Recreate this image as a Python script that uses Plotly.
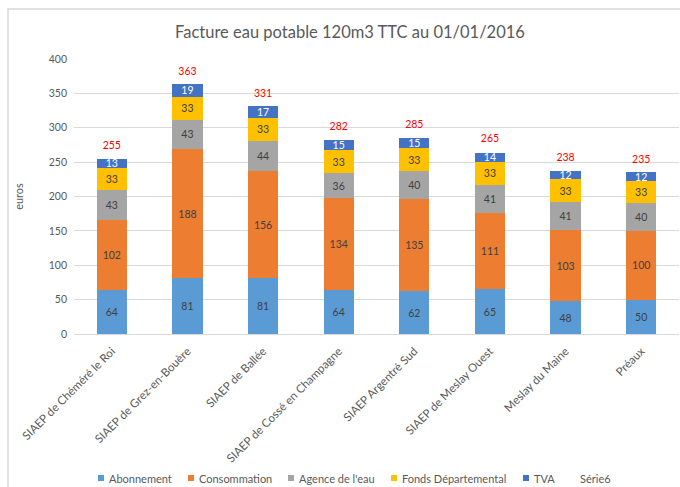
import plotly.graph_objects as go

categories = ["SIAEP de Chéméré le Roi", "SIAEP de Grez-en-Bouère", "SIAEP de Ballée",
              "SIAEP de Cossé en Champagne", "SIAEP Argentré Sud", "SIAEP de Meslay Ouest",
              "Meslay du Maine", "Préaux"]
abonnement = [64, 81, 81, 64, 62, 65, 48, 50]
consommation = [102, 188, 156, 134, 135, 111, 103, 100]
agence = [43, 43, 44, 36, 40, 41, 41, 40]
fonds = [33, 33, 33, 33, 33, 33, 33, 33]
tva = [13, 19, 17, 15, 15, 14, 12, 12]
totals = [255, 363, 331, 282, 285, 265, 238, 235]
yticks = [0, 50, 100, 150, 200, 250, 300, 350, 400]

FONT = "Lato"
GRAY = "#595959"

series = [
    ("Abonnement", abonnement, "#5B9BD5", "#404040"),
    ("Consommation", consommation, "#ED7D31", "#404040"),
    ("Agence de l'eau", agence, "#A5A5A5", "#404040"),
    ("Fonds Départemental", fonds, "#FFC000", "#404040"),
    ("TVA", tva, "#4472C4", "#FFFFFF"),
]

# pixel geometry of the plot area
L, R, T, B = 74, 1, 59, 153
PW = 680 - L - R
PH = 487 - T - B


def px_x(p):
    return (p - L) / PW


def px_y(p):
    return (487 - B - p) / PH


fig = go.Figure()
for name, vals, color, tcol in series:
    fig.add_trace(go.Bar(
        x=categories, y=vals, name=name,
        marker=dict(color=color, line=dict(width=0)),
        text=[str(v) for v in vals], textposition="inside",
        insidetextanchor="middle", textangle=0,
        textfont=dict(family=FONT, size=10.5, color=tcol),
        hoverinfo="skip", showlegend=False,
    ))

fig.add_trace(go.Scatter(
    x=categories, y=totals, name="Série6", mode="markers+text",
    marker=dict(color="rgba(0,0,0,0)", size=10),
    text=[str(v) for v in totals], textposition="top center",
    textfont=dict(family=FONT, size=10.5, color="#FF0000"),
    hoverinfo="skip", cliponaxis=False, showlegend=False,
))

fig.update_layout(
    width=680, height=487,
    barmode="stack", bargap=0.6,
    paper_bgcolor="white", plot_bgcolor="white",
    margin=dict(l=L, r=R, t=T, b=B),
    font=dict(family=FONT, size=10, color=GRAY),
    title=dict(text="Facture eau potable 120m3 TTC au 01/01/2016",
               x=350 / 680, xanchor="center", y=1 - 32 / 487, yanchor="middle",
               font=dict(family=FONT, size=16.5, color=GRAY)),
    uniformtext=dict(minsize=10, mode="show"),
    showlegend=False,
)
fig.update_xaxes(tickangle=-45, tickfont=dict(family=FONT, size=11.5, color=GRAY),
                 showline=True, linecolor="#D9D9D9", ticks="", showgrid=False,
                 automargin=False, ticklabelstandoff=5)
fig.update_yaxes(range=[0, 400], tickvals=yticks, showgrid=True, gridcolor="#D9D9D9",
                 zeroline=False, showline=False, ticks="", automargin=False,
                 ticklabelstandoff=6,
                 tickfont=dict(family=FONT, size=10.5, color=GRAY),
                 title=dict(text="euros", font=dict(family=FONT, size=11, color=GRAY), standoff=22))

# chart border
fig.add_shape(type="rect", xref="paper", yref="paper",
              x0=px_x(8), x1=px_x(700), y0=px_y(520), y1=px_y(9),
              line=dict(color="#D9D9D9", width=1.5), fillcolor="rgba(0,0,0,0)", layer="below")

# legend (drawn below the plot)
legend_names = [s[0] for s in series] + ["Série6"]
legend_colors = [s[2] for s in series] + [None]
legend_sq_x = [98, 188, 288, 391, 523, None]
legend_txt_x = [107, 197, 297, 400, 532, 578]
LEG_Y = 478
for name, col, sx, tx in zip(legend_names, legend_colors, legend_sq_x, legend_txt_x):
    if col is not None:
        fig.add_shape(type="rect", xref="paper", yref="paper",
                      x0=px_x(sx), x1=px_x(sx + 6), y0=px_y(LEG_Y + 3), y1=px_y(LEG_Y - 3),
                      fillcolor=col, line=dict(width=0))
    fig.add_annotation(text=name, xref="paper", yref="paper", x=px_x(tx), y=px_y(LEG_Y),
                       xanchor="left", yanchor="middle", showarrow=False,
                       font=dict(family=FONT, size=11, color=GRAY))

fig.write_html("out.html", config={"displayModeBar": False},
               post_script="document.body.style.margin='0';document.body.style.overflow='hidden';")
